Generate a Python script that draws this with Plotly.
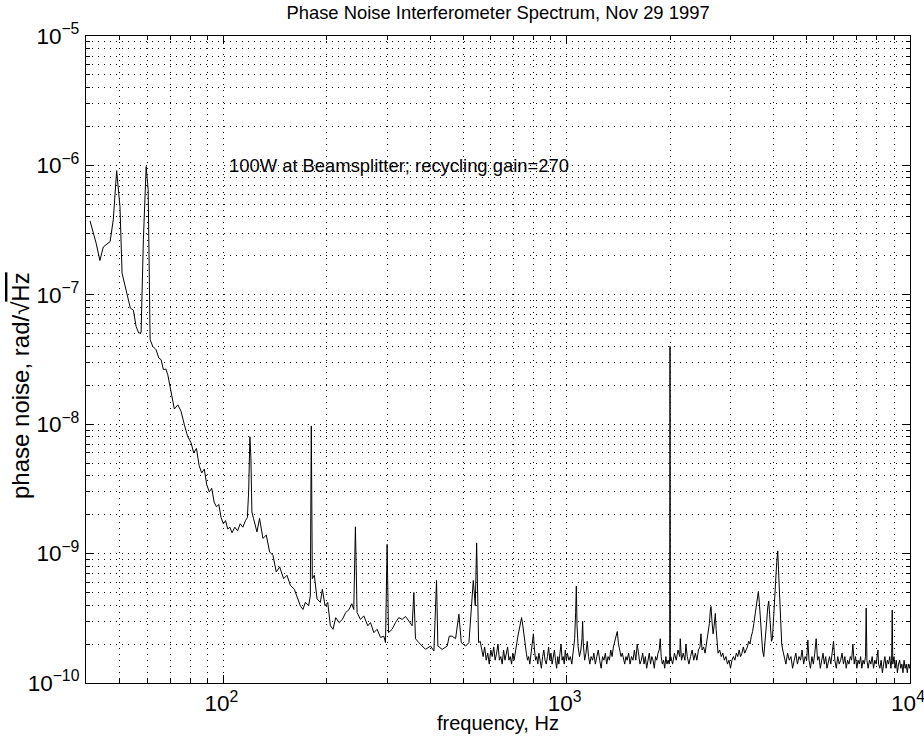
import math
import plotly.graph_objects as go

title_text = "Phase Noise Interferometer Spectrum, Nov 29 1997"
note_text = "100W at Beamsplitter; recycling gain=270"
x_title = "frequency, Hz"
y_title = "phase noise, rad/\u221a<span style='text-decoration:overline'>Hz</span>"

# (frequency [Hz], phase noise [rad/sqrt(Hz)])
low_band = [
    (40.9, 3.73e-7), (42.6, 2.51e-7), (43.7, 1.84e-7), (44.7, 2.34e-7), (46.8, 2.58e-7),
    (47.8, 3.8e-7), (48.9, 9.1e-7), (50.0, 4.8e-7), (50.7, 1.47e-7), (52.1, 1.09e-7),
    (53.6, 7.9e-8), (54.7, 7.6e-8), (55.7, 5.7e-8), (56.7, 5.06e-8), (57.6, 5.1e-8),
    (58.5, 2.66e-7), (59.6, 9.8e-7), (60.4, 6.5e-7), (61.2, 4.5e-8), (62.3, 3.99e-8),
    (63.7, 3.76e-8), (64.9, 3.24e-8), (65.9, 3.15e-8), (66.9, 2.64e-8), (68.0, 2.67e-8),
    (68.9, 2.41e-8), (70.5, 1.74e-8), (72.0, 1.31e-8), (73.7, 1.41e-8), (75.3, 1.26e-8),
    (77.0, 9.9e-9), (78.7, 8.05e-9),
]

# the following bands: (frequency [Hz], phase noise in units of 1e-10 rad/sqrt(Hz))
knee_band = [
    (80.5, 72), (82.0, 60), (83.5, 65), (85.0, 48), (86.5, 42), (88.0, 45), (89.5, 34),
    (91.0, 30), (92.5, 32), (94.0, 25), (95.5, 23), (97.0, 24), (98.5, 19), (100.0, 17),
    (101.5, 18), (103.0, 15.5), (104.5, 16), (106.0, 14.5), (108.0, 16), (110.0, 15),
    (112.0, 17), (114.0, 16), (116.0, 18), (117.5, 19), (118.5, 30), (119.5, 80), (120.3, 55),
]

mid_band = [
    (121.1, 21), (122.4, 18.7), (125.3, 14.7), (127.5, 18.7), (130.4, 13.1), (133.4, 13.9),
    (136.4, 10.3), (139.5, 9.7), (142.6, 7.2), (145.9, 7.9), (149.8, 6.4), (153.2, 6.8),
    (156.7, 5.7), (161.0, 5.3), (163.9, 4.7), (167.6, 3.95), (170.6, 3.7), (173.3, 4.2),
    (177.2, 3.95), (179.2, 4.7), (180.4, 97), (181.6, 6.4), (184.1, 6.8), (187.5, 4.46),
    (191.7, 4.2), (194.3, 5.3), (197.8, 3.95), (201.4, 4.2), (205.0, 2.77), (208.7, 2.6),
    (212.5, 3.2), (217.3, 2.93), (222.2, 3.1), (227.2, 3.5), (232.4, 3.7), (236.6, 4.1),
    (239.8, 3.7), (242.5, 16.1), (245.2, 3.5), (250.8, 3.1), (256.5, 3.3), (263.5, 2.77),
    (268.3, 2.93), (274.4, 2.45), (280.5, 2.6), (286.9, 2.25), (293.4, 2.3), (296.7, 2.05),
    (300.0, 11.8), (302.7, 2.45), (310.2, 2.6), (317.2, 2.93), (324.4, 3.2), (331.8, 3.1),
    (339.3, 3.27), (347.0, 3.0), (354.8, 2.77), (358.8, 5.0), (362.8, 2.2), (371.1, 2.05),
    (379.5, 1.93), (388.0, 1.82), (401.4, 1.93), (410.5, 1.77), (417.8, 6.2), (421.6, 1.93),
    (434.0, 1.82), (448.8, 1.93), (455.0, 2.3), (464.2, 2.3), (474.7, 2.2), (485.5, 3.4),
    (493.2, 2.05), (507.7, 1.93), (519.2, 2.05), (534.6, 6.2), (541.8, 3.95), (546.7, 12.1),
    (554.0, 2.05),
]

band_560_1000 = [
    (560, 2.1), (566, 1.8), (571, 1.6), (577, 1.9), (583, 1.5), (589, 1.7), (595, 1.4),
    (601, 1.8), (607, 1.6), (613, 1.9), (619, 1.5), (625, 1.7), (631, 2.0), (637, 1.5),
    (643, 1.6), (649, 1.4), (655, 1.8), (661, 1.5), (667, 1.7), (673, 1.9), (679, 1.5),
    (685, 1.6), (691, 1.4), (697, 1.7), (703, 1.5), (709, 1.8), (715, 2.0), (721, 2.3),
    (727, 2.6), (733, 2.9), (739, 3.2), (745, 2.8), (751, 2.3), (757, 1.9), (763, 1.7),
    (769, 1.5), (775, 1.6), (781, 1.4), (787, 1.7), (793, 1.9), (800, 2.4), (806, 1.8),
    (812, 1.5), (818, 1.6), (824, 1.4), (830, 1.7), (837, 1.5), (844, 1.3), (851, 1.6),
    (858, 1.8), (865, 1.5), (872, 1.4), (879, 1.6), (886, 1.9), (893, 1.5), (900, 1.7),
    (907, 1.4), (914, 1.6), (921, 1.8), (928, 1.5), (935, 1.3), (942, 1.6), (949, 1.4),
    (956, 1.7), (963, 2.0), (970, 1.5), (977, 1.6), (984, 1.4), (991, 1.8), (998, 1.5),
]

band_1k_2k = [
    (1005, 1.7), (1015, 1.5), (1025, 1.6), (1035, 1.4), (1045, 1.8), (1055, 2.2), (1062, 3.5),
    (1067, 5.6), (1072, 2.8), (1080, 1.9), (1090, 1.6), (1100, 1.8), (1108, 2.2), (1113, 3.0),
    (1118, 2.0), (1128, 1.5), (1138, 1.7), (1148, 2.1), (1158, 1.6), (1168, 1.4), (1178, 1.6),
    (1190, 1.5), (1200, 1.7), (1212, 1.4), (1224, 1.6), (1236, 1.8), (1248, 1.5), (1260, 1.3),
    (1272, 1.6), (1284, 1.5), (1296, 1.7), (1308, 1.4), (1320, 1.6), (1332, 1.5), (1344, 1.8),
    (1356, 1.6), (1368, 1.9), (1380, 2.1), (1392, 2.3), (1404, 2.5), (1416, 2.0), (1428, 1.8),
    (1440, 1.6), (1452, 1.7), (1464, 1.5), (1476, 1.4), (1488, 1.6), (1500, 1.5), (1515, 1.7),
    (1530, 1.4), (1545, 1.6), (1560, 1.5), (1575, 1.8), (1590, 1.5), (1605, 2.0), (1620, 1.6),
    (1635, 1.4), (1650, 1.5), (1665, 1.7), (1680, 1.4), (1695, 1.6), (1710, 1.3), (1725, 1.5),
    (1740, 1.7), (1755, 1.4), (1770, 1.6), (1785, 1.5), (1800, 1.3), (1815, 1.6), (1830, 1.5),
    (1845, 1.7), (1860, 1.8), (1873, 2.2), (1885, 1.6), (1900, 1.4), (1915, 1.5), (1930, 1.3),
    (1945, 1.6), (1960, 1.4), (1975, 1.5), (1990, 1.4), (1996, 1.6), (2000, 400), (2004, 1.5),
]

band_2k_4k = [
    (2010, 1.6), (2035, 1.4), (2060, 1.7), (2085, 1.5), (2110, 1.8), (2135, 1.6), (2142, 2.2),
    (2160, 1.5), (2185, 1.7), (2210, 1.5), (2225, 2.0), (2245, 1.6), (2270, 1.4), (2295, 1.6),
    (2320, 1.8), (2345, 1.5), (2370, 1.7), (2395, 1.5), (2420, 1.8), (2445, 1.9), (2461, 2.4),
    (2480, 1.8), (2505, 1.9), (2530, 1.7), (2555, 2.0), (2580, 2.3), (2605, 2.9), (2620, 3.6),
    (2633, 3.9), (2650, 3.0), (2670, 2.4), (2690, 2.8), (2710, 3.45), (2725, 2.6), (2740, 2.0),
    (2760, 1.7), (2790, 1.8), (2820, 1.6), (2850, 1.7), (2880, 1.5), (2910, 1.6), (2940, 1.4),
    (2970, 1.5), (3000, 1.3), (3030, 1.5), (3060, 1.6), (3090, 1.5), (3120, 1.7), (3150, 1.6),
    (3180, 1.8), (3210, 1.6), (3240, 1.7), (3270, 1.9), (3300, 1.7), (3330, 1.8), (3360, 1.9),
    (3390, 2.1), (3420, 2.0), (3450, 2.3), (3480, 2.5), (3510, 2.9), (3540, 3.4), (3570, 4.2),
    (3600, 4.9), (3617, 5.1), (3640, 4.2), (3665, 3.0), (3690, 2.2), (3720, 1.8), (3750, 1.6),
    (3775, 1.9), (3800, 2.4), (3825, 3.0), (3850, 3.8), (3877, 4.3), (3900, 3.4), (3925, 2.6),
    (3950, 2.1), (3975, 2.2), (4000, 2.8), (4030, 4.0), (4060, 6.0), (4090, 8.5), (4119, 10.5),
    (4140, 7.5), (4170, 4.5), (4200, 2.8), (4230, 2.0), (4260, 1.8),
]

band_4k_10k = [
    (4300, 1.6), (4350, 1.4), (4400, 1.7), (4450, 1.5), (4500, 1.6), (4550, 1.3), (4600, 1.5),
    (4650, 1.7), (4700, 1.4), (4750, 1.6), (4800, 1.5), (4850, 1.8), (4900, 1.4), (4950, 1.6),
    (5000, 1.5), (5040, 2.15), (5080, 1.5), (5130, 1.3), (5180, 1.6), (5230, 1.4), (5280, 1.7),
    (5330, 2.2), (5380, 1.5), (5430, 1.6), (5480, 1.3), (5530, 1.5), (5580, 1.7), (5630, 1.4),
    (5680, 1.6), (5730, 1.3), (5780, 1.5), (5830, 1.6), (5880, 1.4), (5930, 1.7), (5988, 2.1),
    (6040, 1.5), (6100, 1.3), (6160, 1.6), (6220, 1.4), (6280, 1.5), (6340, 1.7), (6400, 1.4),
    (6460, 1.6), (6520, 1.3), (6580, 1.5), (6640, 1.4), (6700, 1.6), (6760, 1.5), (6817, 2.0),
    (6880, 1.4), (6940, 1.6), (7000, 1.3), (7060, 1.5), (7120, 1.4), (7180, 1.6), (7240, 1.3),
    (7300, 1.5), (7360, 1.4), (7420, 1.6), (7454, 3.8), (7490, 1.5), (7550, 1.3), (7620, 1.5),
    (7690, 1.4), (7760, 1.6), (7830, 1.3), (7900, 1.5), (7970, 1.4), (8030, 1.6), (8064, 1.8),
    (8100, 1.4), (8170, 1.3), (8240, 1.5), (8310, 1.2), (8380, 1.4), (8450, 1.6), (8520, 1.3),
    (8590, 1.5), (8660, 1.4), (8730, 1.6), (8800, 1.3), (8840, 1.5), (8876, 3.66), (8910, 1.4),
    (8980, 1.6), (9050, 1.3), (9120, 1.5), (9190, 1.2), (9260, 1.4), (9330, 1.5), (9400, 1.3),
    (9470, 1.4), (9540, 1.2), (9610, 1.5), (9680, 1.3), (9750, 1.4), (9820, 1.2), (9890, 1.4),
    (9960, 1.3), (10000, 1.4),
]

UNIT = 1e-10
freq = [f for f, _ in low_band]
asd = [v for _, v in low_band]
for band in (knee_band, mid_band, band_560_1000, band_1k_2k, band_2k_4k, band_4k_10k):
    freq += [f for f, _ in band]
    asd += [v * UNIT for _, v in band]

FONT = "Liberation Sans, Arial, Helvetica, sans-serif"
dots = "1px,5px"

fig = go.Figure()
fig.add_trace(go.Scatter(x=freq, y=asd, mode="lines",
                         line=dict(color="black", width=1), showlegend=False))

axis_common = dict(
    type="log", dtick=1, exponentformat="power", automargin=False,
    showline=True, linecolor="black", linewidth=1, mirror="allticks",
    ticks="inside", ticklen=8, tickcolor="black", tickwidth=1,
    showgrid=True, gridcolor="black", gridwidth=1, griddash=dots,
    tickfont=dict(family=FONT, size=18, color="black"),
    ticklabeloverflow="allow",
    zeroline=False,
    minor=dict(dtick="D1", ticks="inside", ticklen=4, tickcolor="black",
               showgrid=True, gridcolor="black", gridwidth=1, griddash=dots),
)

fig.update_xaxes(range=[1.6, 4.0], ticklabelstandoff=1, ticklabelshift=-2, **axis_common)
fig.update_yaxes(range=[-10, -5], ticklabelstandoff=2, **axis_common)

fig.update_layout(
    width=924, height=740,
    margin=dict(l=86, r=14, t=36, b=57),
    paper_bgcolor="white", plot_bgcolor="white",
    font=dict(family=FONT, size=18, color="black"),
    title=dict(text=title_text, x=0.539, xanchor="center", y=0.983, yanchor="middle",
               font=dict(family=FONT, size=18.4, color="black")),
    annotations=[
        dict(text=note_text, xref="x", yref="y", x=math.log10(102.5), y=-6.0,
             xanchor="left", yanchor="middle", showarrow=False,
             font=dict(family=FONT, size=18.4, color="black")),
        dict(text=x_title, xref="paper", yref="paper", x=0.5, y=-0.0622,
             xanchor="center", yanchor="middle", showarrow=False,
             font=dict(family=FONT, size=20, color="black")),
        dict(text=y_title, xref="paper", yref="paper", x=-0.0789, y=0.4606,
             xanchor="center", yanchor="middle", textangle=-90, showarrow=False,
             font=dict(family=FONT, size=24, color="black")),
    ],
)

fig.write_html("out.html", config={"displayModeBar": False},
               post_script="document.body.style.margin='0';")
